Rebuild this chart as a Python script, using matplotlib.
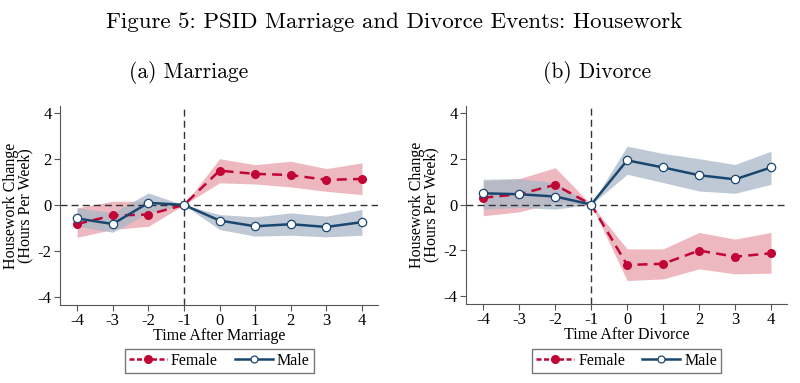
import numpy as np
import matplotlib
matplotlib.use("Agg")
import matplotlib.pyplot as plt
from matplotlib.lines import Line2D

RED, NAVY = "#c10534", "#1a476f"
RED_BAND, NAVY_BAND = "#e8a0aa", "#a8b8c8"

t = [-4, -3, -2, -1, 0, 1, 2, 3, 4]

# (a) Marriage
mar_f = [-0.83, -0.46, -0.42, 0, 1.49, 1.35, 1.30, 1.09, 1.13]
mar_f_lo = [-1.41, -1.07, -0.93, 0, 0.96, 0.91, 0.78, 0.59, 0.45]
mar_f_hi = [-0.13, 0.16, 0.16, 0, 2.01, 1.75, 1.90, 1.58, 1.83]
mar_m = [-0.59, -0.83, 0.09, 0, -0.68, -0.93, -0.84, -0.96, -0.75]
mar_m_lo = [-0.93, -1.19, -0.35, 0, -1.07, -1.36, -1.32, -1.39, -1.32]
mar_m_hi = [-0.13, -0.35, 0.52, 0, -0.42, -0.52, -0.35, -0.49, -0.20]

# (b) Divorce
div_f = [0.30, 0.45, 0.86, 0, -2.64, -2.59, -2.01, -2.28, -2.13]
div_f_lo = [-0.49, -0.32, 0.09, 0, -3.32, -3.25, -2.81, -3.03, -3.00]
div_f_hi = [1.03, 1.13, 1.61, 0, -1.94, -1.94, -1.22, -1.51, -1.22]
div_m = [0.49, 0.45, 0.35, 0, 1.93, 1.62, 1.28, 1.10, 1.62]
div_m_lo = [-0.20, -0.13, -0.20, 0, 1.32, 0.96, 0.59, 0.49, 0.88]
div_m_hi = [1.10, 1.13, 0.96, 0, 2.55, 2.23, 2.00, 1.75, 2.33]

SERIF = ["Liberation Serif", "DejaVu Serif"]
CM = ["cmr10", "DejaVu Serif"]
plt.rcParams.update({"font.family": SERIF, "axes.unicode_minus": False})

fig = plt.figure(figsize=(8, 3.83), dpi=100)
fig.text(0.493, 0.943, "Figure 5: PSID Marriage and Divorce Events: Housework",
         ha="center", va="center", fontsize=16.5, family=CM)

panels = [
    ([0.075, 0.204, 0.3975, 0.519], "(a) Marriage", "Time After Marriage",
     mar_f, mar_f_lo, mar_f_hi, mar_m, mar_m_lo, mar_m_hi, 0.274, 0.236),
    ([0.5825, 0.206, 0.4015, 0.517], "(b) Divorce", "Time After Divorce",
     div_f, div_f_lo, div_f_hi, div_m, div_m_lo, div_m_hi, 0.783, 0.746),
]

for rect, title, xlab, f, flo, fhi, m, mlo, mhi, lx, tx in panels:
    ax = fig.add_axes(rect)
    ax.fill_between(t, flo, fhi, color=RED_BAND, alpha=0.75, lw=0)
    ax.fill_between(t, mlo, mhi, color=NAVY_BAND, alpha=0.75, lw=0)
    ax.axhline(0, color="#333333", lw=1, ls=(0, (5, 3)))
    ax.axvline(-1, color="#333333", lw=1, ls=(0, (5, 3)))
    ax.plot(t, f, color=RED, lw=1.8, ls=(0, (4, 2.5)), marker="o", ms=5.5, zorder=4)
    ax.plot(t, m, color=NAVY, lw=1.8, marker="o", ms=6, mfc="white", mew=0.9, zorder=5)
    ax.set_xlim(-4.48, 4.45)
    ax.set_ylim(-4.35, 4.3)
    ax.set_xticks(t)
    ax.set_yticks([-4, -2, 0, 2, 4])
    ax.set_xticklabels([str(v) for v in t])
    ax.set_yticklabels(["-4", "-2", "0", "2", "4"])
    ax.tick_params(labelsize=12, length=4, color="#555555", pad=2)
    for s in ["top", "right"]:
        ax.spines[s].set_visible(False)
    for s in ["left", "bottom"]:
        ax.spines[s].set_color("#555555")
    ax.set_xlabel(xlab, fontsize=11.5, labelpad=-1)
    ax.set_ylabel("Housework Change\n(Hours Per Week)", fontsize=11.5,
                  labelpad=3, linespacing=0.85)
    fig.text(tx, 0.812, title, ha="center", va="center", fontsize=15.5, family=CM)
    handles = [
        Line2D([], [], color=RED, lw=1.8, ls=(0, (2, 1)), marker="o", ms=5.5),
        Line2D([], [], color=NAVY, lw=1.8, marker="o", ms=5, mfc="white", mew=0.9),
    ]
    fig.legend(handles, ["Female", "Male"], loc="center", bbox_to_anchor=(lx, 0.0574),
               ncol=2, frameon=True, fancybox=False, edgecolor="#555555",
               fontsize=11.5, handlelength=2.4, columnspacing=1.05, borderpad=0.25,
               handletextpad=0.25, borderaxespad=0)

fig.savefig("out.png", dpi=100, facecolor="white")
